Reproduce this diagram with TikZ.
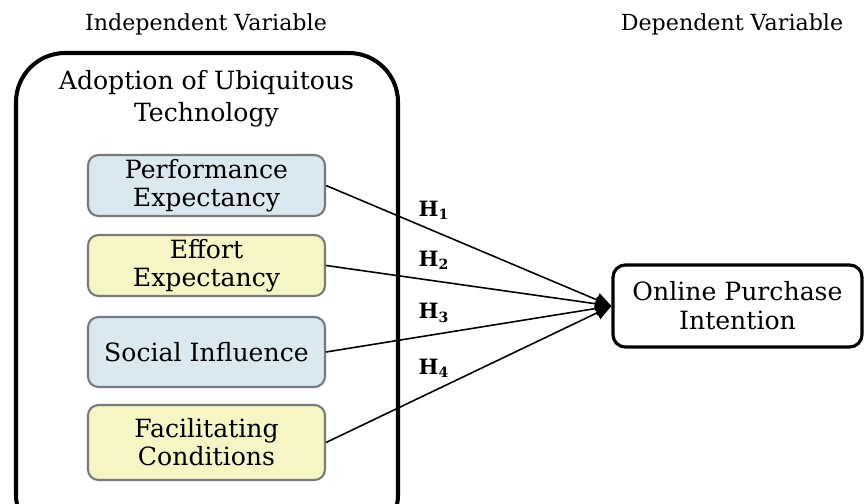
\documentclass[tikz,border=0pt]{standalone}
\usepackage{fontspec}
\setmainfont{DejaVu Serif}
\usetikzlibrary{arrows.meta}
\definecolor{paleblue}{HTML}{DAE8EF}
\definecolor{paleyellow}{HTML}{F5F5C6}
\definecolor{edgegrey}{HTML}{7A7A7A}

\begin{document}
\begin{tikzpicture}[auto,
    factor/.style ={rectangle, rounded corners=6pt, draw=edgegrey, line width=1.2pt,
      minimum width=4.74cm, align=center, font=\fontsize{14.3}{16}\selectfont, inner sep=0pt},
    bluefactor/.style ={factor, fill=paleblue},
    yellowfactor/.style ={factor, fill=paleyellow},
    outcome/.style ={rectangle, rounded corners=7pt, draw, line width=1.8pt,
      minimum width=4.98cm, minimum height=1.64cm, align=center,
      font=\fontsize{14.3}{16.5}\selectfont},
    heading/.style ={font=\fontsize{12.6}{14}\selectfont},
    hyp/.style ={font=\fontsize{12}{14}\selectfont\bfseries, anchor=west},
    link/.style ={line width=0.9pt, -{Triangle[length=9pt, width=8pt]}}]
   \useasboundingbox (0,0) rectangle (17.28,10.08);
   \node[heading] (iv) at (4.12,9.6) {Independent Variable};
   \node[heading] (dv) at (14.64,9.6) {Dependent Variable};
   \draw[line width=2.3pt, rounded corners=28pt] (0.32,-0.8) rectangle (7.96,9.02);
   \node[align=center, font=\fontsize{14.3}{18}\selectfont] (aut) at (4.13,8.1)
     {Adoption of Ubiquitous\\Technology};
   \node[bluefactor, minimum height=1.22cm] (pe) at (4.13,6.37) {Performance\\Expectancy};
   \node[yellowfactor, minimum height=1.22cm] (ee) at (4.13,4.77) {Effort\\Expectancy};
   \node[bluefactor, minimum height=1.4cm] (si) at (4.13,3.04) {Social Influence};
   \node[yellowfactor, minimum height=1.5cm] (fc) at (4.13,1.23) {Facilitating\\Conditions};
   \node[outcome] (opi) at (14.75,3.96) {Online Purchase\\Intention};
   \draw[link] (pe.east) to (opi.west);
   \draw[link] (ee.east) to (opi.west);
   \draw[link] (si.east) to (opi.west);
   \draw[link] (fc.east) to (opi.west);
   \node[hyp] (h1) at (8.25,5.88) {H$_{\mathbf{1}}$};
   \node[hyp] (h2) at (8.25,4.88) {H$_{\mathbf{2}}$};
   \node[hyp] (h3) at (8.25,3.82) {H$_{\mathbf{3}}$};
   \node[hyp] (h4) at (8.25,2.72) {H$_{\mathbf{4}}$};
\end{tikzpicture}
\end{document}
